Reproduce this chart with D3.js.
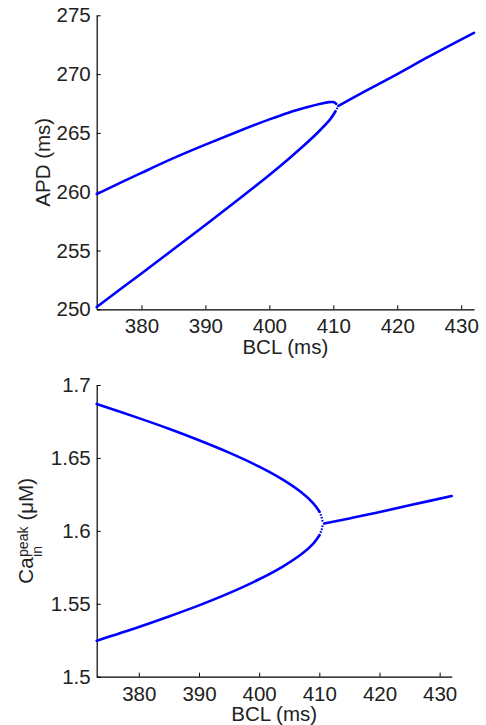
<!DOCTYPE html>
<html>
<head>
<meta charset="utf-8">
<script src="https://cdn.jsdelivr.net/npm/d3@7"></script>
<style>
  html, body { margin: 0; padding: 0; background: #fff; }
  svg { display: block; }
</style>
</head>
<body>
<script>
// ---- Data ----
// Top panel: APD (ms) vs BCL (ms)
const apdUpperBCL = [373, 380, 385, 390, 395, 400, 403, 406, 408, 409.3, 410.0, 410.4];
const apdUpperVal = [259.8, 261.6, 262.85, 264.0, 265.1, 266.15, 266.72, 267.2, 267.48, 267.62, 267.62, 267.5];
const apdLowerBCL = [373, 380, 385, 390, 395, 400, 403, 406, 408, 409.5, 410.3];
const apdLowerVal = [250.2, 253.05, 255.1, 257.17, 259.27, 261.42, 262.78, 264.22, 265.27, 266.15, 266.8];
const apdTipUpperBCL = [410.4, 410.8];
const apdTipUpperVal = [267.5, 267.3];
const apdTipLowerBCL = [410.3, 410.8];
const apdTipLowerVal = [266.8, 267.3];
const apdSingleBCL = [410.8, 415, 420, 425, 432];
const apdSingleVal = [267.3, 268.55, 270.0, 271.5, 273.5];

// Bottom panel: Ca_in^peak (uM) vs BCL (ms)
const caUpperBCL = [373, 380, 385, 390, 395, 400, 404, 407, 409, 410];
const caUpperVal = [1.687, 1.6773, 1.670, 1.6621, 1.6536, 1.644, 1.6349, 1.6264, 1.6189, 1.6133];
const caLowerBCL = [373, 380, 385, 390, 395, 400, 404, 407, 409, 410];
const caLowerVal = [1.5247, 1.5341, 1.5413, 1.5489, 1.5573, 1.5668, 1.5757, 1.5839, 1.5913, 1.5968];
const caTipUpperBCL = [410, 410.35, 410.6];
const caTipUpperVal = [1.6133, 1.6098, 1.6055];
const caTipLowerBCL = [410, 410.35, 410.6];
const caTipLowerVal = [1.5968, 1.6002, 1.6045];
const caSingleBCL = [410.8, 415, 419.5, 425, 432];
const caSingleVal = [1.605, 1.6085, 1.6124, 1.6175, 1.6239];

// Ticks
const bclTicks = [380, 390, 400, 410, 420, 430];
const apdTicks = [250, 255, 260, 265, 270, 275];
const caTicks = [1.5, 1.55, 1.6, 1.65, 1.7];

// ---- Layout ----
const W = 486, H = 725;
const fontFamily = "'Liberation Sans', Arial, Helvetica, sans-serif";
const fontSize = 20.5;
const lineColor = "#0000ff";

const svg = d3.select("body").append("svg")
  .attr("width", W)
  .attr("height", H)
  .attr("font-family", fontFamily);

const zip = (xs, ys) => xs.map((x, i) => [x, ys[i]]);

function panel({ left, right, top, bottom, yDomain, yTicks, yFmt, branches, tips }) {
  const x = d3.scaleLinear().domain([373, 432]).range([left, right]);
  const y = d3.scaleLinear().domain(yDomain).range([bottom, top]);
  const g = svg.append("g");

  const xAxis = g.append("g")
    .attr("transform", `translate(0,${bottom})`)
    .call(d3.axisBottom(x).tickValues(bclTicks).tickSizeInner(-4).tickSizeOuter(0).tickPadding(9.5));
  const yAxis = g.append("g")
    .attr("transform", `translate(${left},0)`)
    .call(d3.axisLeft(y).tickValues(yTicks).tickFormat(yFmt).tickSizeInner(-4).tickSizeOuter(0).tickPadding(6));

  [xAxis, yAxis].forEach(a => {
    a.attr("font-family", fontFamily).attr("font-size", fontSize);
    a.select(".domain").attr("stroke", "#000").attr("stroke-width", 1.2);
    a.selectAll(".tick line").attr("stroke", "#000").attr("stroke-width", 1);
    a.selectAll(".tick text").attr("fill", "#222");
  });

  const line = d3.line().x(d => x(d[0])).y(d => y(d[1])).curve(d3.curveCatmullRom.alpha(0.5));

  branches.forEach(pts => {
    g.append("path")
      .attr("d", line(pts))
      .attr("fill", "none")
      .attr("stroke", lineColor)
      .attr("stroke-width", 2.6)
      .attr("stroke-linejoin", "round")
      .attr("stroke-linecap", "round");
  });

  // sparse points near the bifurcation look dotted
  tips.forEach(pts => {
    g.append("path")
      .attr("d", d3.line().x(d => x(d[0])).y(d => y(d[1]))(pts))
      .attr("fill", "none")
      .attr("stroke", lineColor)
      .attr("stroke-width", 2.2)
      .attr("stroke-dasharray", "1.6,1.4");
  });

  return { x, y };
}

// Top panel
panel({
  left: 96.7, right: 474, top: 15.3, bottom: 309.3,
  yDomain: [250, 275], yTicks: apdTicks, yFmt: d3.format("d"),
  branches: [
    zip(apdUpperBCL, apdUpperVal),
    zip(apdLowerBCL, apdLowerVal),
    zip(apdSingleBCL, apdSingleVal)
  ],
  tips: [
    zip(apdTipUpperBCL, apdTipUpperVal),
    zip(apdTipLowerBCL, apdTipLowerVal)
  ]
});

// Bottom panel
panel({
  left: 96.7, right: 451.7, top: 385, bottom: 676.7,
  yDomain: [1.5, 1.7], yTicks: caTicks, yFmt: d => String(+d.toFixed(2)),
  branches: [
    zip(caUpperBCL, caUpperVal),
    zip(caLowerBCL, caLowerVal),
    zip(caSingleBCL, caSingleVal)
  ],
  tips: [
    zip(caTipUpperBCL, caTipUpperVal),
    zip(caTipLowerBCL, caTipLowerVal)
  ]
});

// Axis titles
svg.append("text")
  .attr("x", (96.7 + 474) / 2).attr("y", 353.5)
  .attr("text-anchor", "middle")
  .attr("font-size", fontSize).attr("fill", "#222")
  .text("BCL (ms)");

svg.append("text")
  .attr("x", (96.7 + 451.7) / 2).attr("y", 721)
  .attr("text-anchor", "middle")
  .attr("font-size", fontSize).attr("fill", "#222")
  .text("BCL (ms)");

svg.append("text")
  .attr("transform", `translate(50,${(15.3 + 309.3) / 2}) rotate(-90)`)
  .attr("text-anchor", "middle")
  .attr("font-size", fontSize).attr("fill", "#222")
  .text("APD (ms)");

// Ca_in^peak (μM), stacked super/subscript
const lab = svg.append("g")
  .attr("transform", `translate(33.3,${(385 + 676.7) / 2}) rotate(-90)`)
  .attr("fill", "#222");
const tCa = lab.append("text").attr("font-size", fontSize).text("Ca");
const tPeak = lab.append("text").attr("font-size", 14).attr("y", -5).text("peak");
const tIn = lab.append("text").attr("font-size", 14).attr("y", 8.5).text("in");
const tUnit = lab.append("text").attr("font-size", fontSize).text("(μM)");
const wCa = tCa.node().getComputedTextLength();
const wScript = Math.max(tPeak.node().getComputedTextLength(), tIn.node().getComputedTextLength());
const wUnit = tUnit.node().getComputedTextLength();
const gap = 6;
const total = wCa + 0.5 + wScript + gap + wUnit;
let cx = -total / 2;
tCa.attr("x", cx);
cx += wCa + 0.5;
tPeak.attr("x", cx);
tIn.attr("x", cx);
cx += wScript + gap;
tUnit.attr("x", cx);
</script>
</body>
</html>
